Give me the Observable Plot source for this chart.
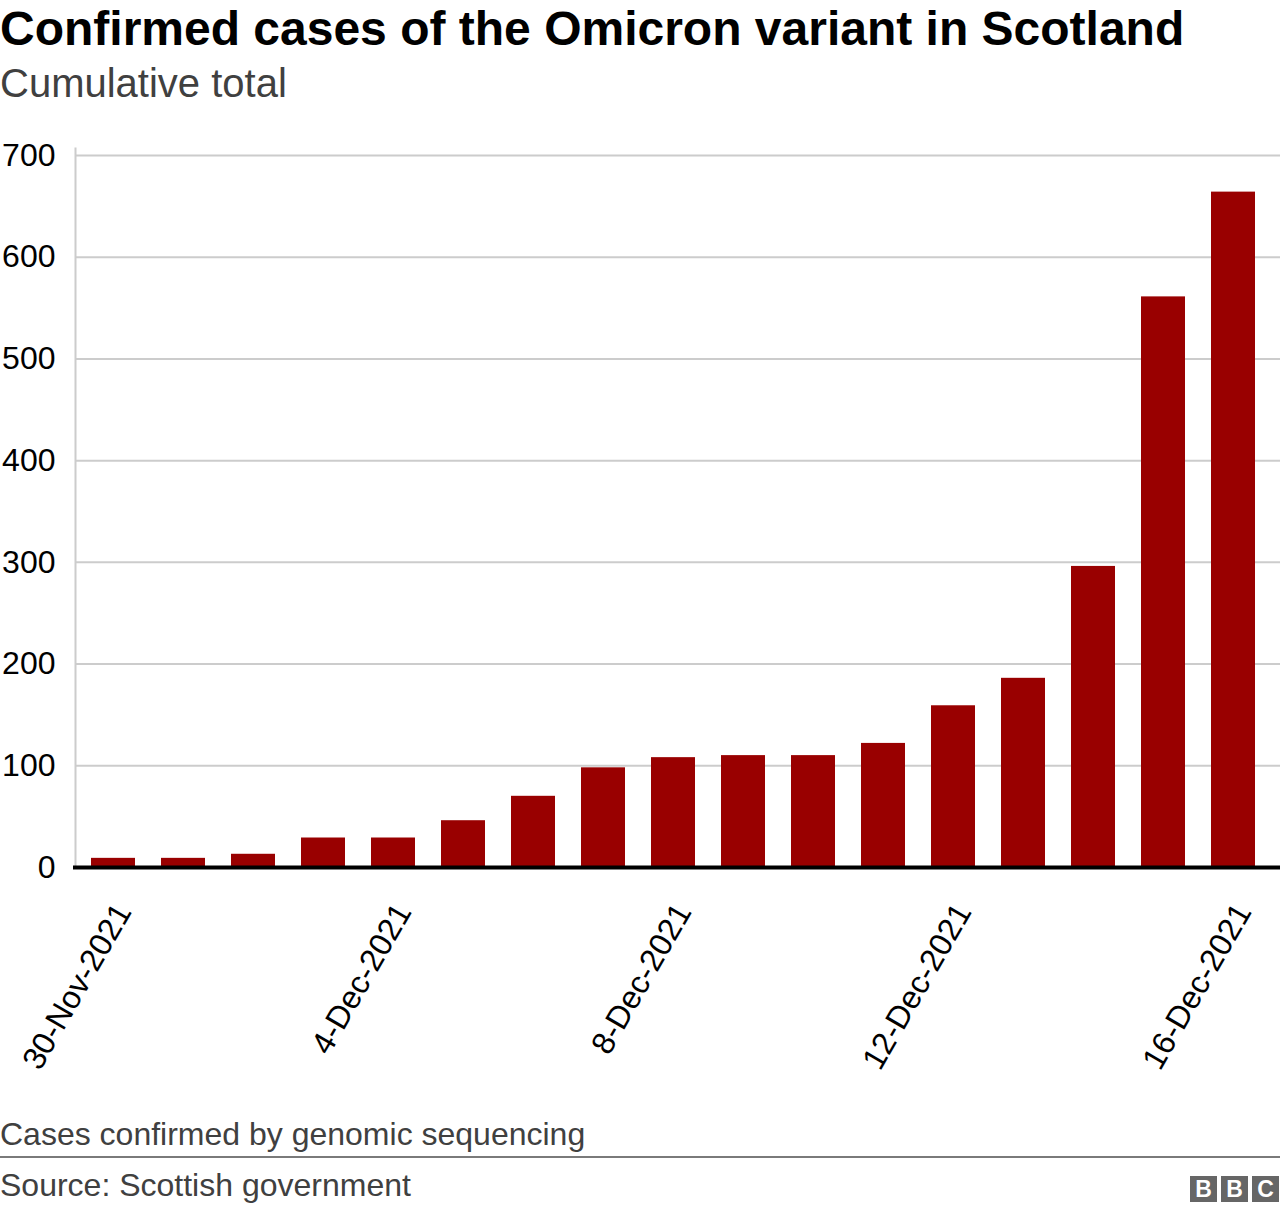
<!DOCTYPE html>
<html>
<head>
<meta charset="utf-8">
<script src="https://cdn.jsdelivr.net/npm/d3@7"></script>
<script src="https://cdn.jsdelivr.net/npm/@observablehq/plot@0.6"></script>
<style>
  html, body { margin: 0; padding: 0; background: #fff; }
  body { width: 1280px; height: 1212px; position: relative; overflow: hidden; font-family: "Liberation Sans", Arial, Helvetica, sans-serif; }
  .abs { position: absolute; left: 0; white-space: nowrap; }
  #title { top: 5px; font-size: 48px; line-height: 48px; font-weight: bold; color: #000; }
  #subtitle { top: 63px; font-size: 40px; line-height: 40px; color: #404040; }
  #chart { top: 120px; }
  #caption { top: 1118px; font-size: 32px; line-height: 32px; color: #404040; }
  #sep { top: 1156px; width: 1280px; height: 2px; background: #7a7a7a; }
  #source { top: 1169px; font-size: 32px; line-height: 32px; color: #404040; }
  #bbc { position: absolute; top: 1176px; left: 1190px; display: flex; gap: 4px; }
  #bbc span { display: block; width: 27px; height: 26px; background: #666; color: #fff; font-weight: bold; font-size: 23px; line-height: 26px; text-align: center; }
</style>
</head>
<body>
<div id="title" class="abs">Confirmed cases of the Omicron variant in Scotland</div>
<div id="subtitle" class="abs">Cumulative total</div>
<div id="chart" class="abs"></div>
<div id="caption" class="abs">Cases confirmed by genomic sequencing</div>
<div id="sep" class="abs"></div>
<div id="source" class="abs">Source: Scottish government</div>
<div id="bbc"><span>B</span><span>B</span><span>C</span></div>
<script>
const dates = ["30-Nov-2021","1-Dec-2021","2-Dec-2021","3-Dec-2021","4-Dec-2021","5-Dec-2021","6-Dec-2021","7-Dec-2021","8-Dec-2021","9-Dec-2021","10-Dec-2021","11-Dec-2021","12-Dec-2021","13-Dec-2021","14-Dec-2021","15-Dec-2021","16-Dec-2021"];
const cases = [9, 9, 13, 29, 29, 46, 70, 98, 108, 110, 110, 122, 159, 186, 296, 561, 664];
const xTickLabels = ["30-Nov-2021","4-Dec-2021","8-Dec-2021","12-Dec-2021","16-Dec-2021"];
const yTicks = [0, 100, 200, 300, 400, 500, 600, 700];

const data = dates.map((d, i) => ({date: d, value: cases[i]}));

const chart = Plot.plot({
  width: 1280,
  height: 970,
  marginTop: 35,
  marginLeft: 75,
  marginRight: 0,
  marginBottom: 223,
  style: {fontFamily: "'Liberation Sans', Arial, sans-serif", fontSize: "32px", color: "#000", background: "#fff"},
  x: {type: "band", domain: dates, range: [78, 1268], paddingInner: 0.3714, paddingOuter: 0.1857, label: null},
  y: {domain: [0, 700], label: null},
  marks: [
    Plot.gridY(yTicks, {stroke: "#cccccc", strokeOpacity: 1, strokeWidth: 2}),
    Plot.frame({anchor: "left", stroke: "#cccccc", strokeWidth: 2, insetTop: -7}),
    Plot.barY(data, {x: "date", y: "value", fill: "#990000"}),
    Plot.ruleY([0], {stroke: "#000", strokeWidth: 4, insetLeft: -2}),
    Plot.axisY(yTicks, {tickSize: 0, tickPadding: 20, fontSize: 32, fill: "#000", label: null}),
    Plot.axisX(xTickLabels, {tickSize: 0, tickPadding: 39, dx: 10, tickRotate: -60, fontSize: 32, fill: "#000", label: null})
  ]
});
document.getElementById("chart").appendChild(chart);
</script>
</body>
</html>
